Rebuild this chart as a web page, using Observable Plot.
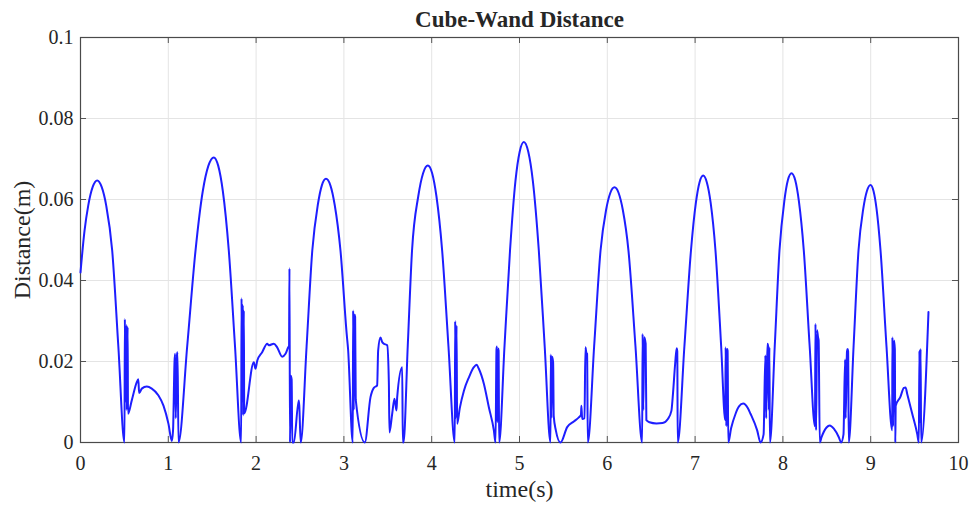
<!DOCTYPE html>
<html>
<head>
<meta charset="utf-8">
<script src="https://cdn.jsdelivr.net/npm/d3@7"></script>
<script src="https://cdn.jsdelivr.net/npm/@observablehq/plot@0.6"></script>
<style>
  body { margin: 0; background: #fff; }
</style>
</head>
<body>
<div id="chart"></div>
<script>
// Cube-to-wand distance over time (seconds, metres)
const time = [
  0.000, 0.046, 0.088, 0.139, 0.190, 0.241, 0.293, 0.361, 0.431, 0.501,
  0.505, 0.513, 0.522, 0.527, 0.537, 0.541, 0.584, 0.641, 0.658, 0.668,
  0.698, 0.755, 0.812, 0.888, 0.945, 1.002, 1.040, 1.054, 1.071, 1.078,
  1.085, 1.099, 1.105, 1.116,
  1.215, 1.310, 1.393, 1.456, 1.518, 1.569, 1.621, 1.689, 1.760, 1.830,
  1.834, 1.840, 1.848, 1.853, 1.860, 1.865, 1.974, 1.993, 2.013, 2.069,
  2.127, 2.145, 2.202, 2.240, 2.297, 2.335, 2.366, 2.375, 2.380, 2.386,
  2.395, 2.405, 2.412, 2.430, 2.486, 2.492, 2.508,
  2.575, 2.640, 2.703, 2.749, 2.796, 2.846, 2.895, 2.961, 3.033, 3.047, 3.101,
  3.105, 3.112, 3.120, 3.128, 3.135, 3.238, 3.303, 3.341, 3.379, 3.390,
  3.417, 3.436, 3.455, 3.493, 3.512, 3.519, 3.550, 3.576, 3.599, 3.607,
  3.664, 3.671, 3.679,
  3.727, 3.776, 3.847, 3.902, 3.956, 4.005, 4.054, 4.119, 4.191, 4.263,
  4.267, 4.275, 4.283, 4.290, 4.320, 4.367, 4.424, 4.480, 4.511, 4.537,
  4.594, 4.651, 4.708, 4.727, 4.738, 4.744, 4.750, 4.757, 4.762, 4.768,
  4.829, 4.892, 4.954, 5.002, 5.049, 5.100, 5.152, 5.220, 5.287, 5.353,
  5.357, 5.363, 5.372, 5.383, 5.390, 5.414, 5.467, 5.543, 5.619, 5.676,
  5.700, 5.705, 5.714, 5.740, 5.751, 5.761, 5.770, 5.778,
  5.850, 5.923, 5.986, 6.034, 6.082, 6.129, 6.177, 6.241, 6.321, 6.397,
  6.402, 6.410, 6.420, 6.437, 6.445, 6.480, 6.560, 6.630, 6.690, 6.730,
  6.745, 6.773, 6.790, 6.797, 6.802,
  6.878, 6.953, 7.009, 7.050, 7.092, 7.134, 7.177, 7.232, 7.297,
  7.343, 7.348, 7.355, 7.365, 7.370, 7.378, 7.410, 7.461, 7.500, 7.548,
  7.600, 7.631, 7.707, 7.745, 7.780, 7.800, 7.810, 7.823, 7.830, 7.840,
  7.846, 7.852,
  7.907, 7.961, 8.016, 8.057, 8.098, 8.140, 8.182, 8.238, 8.305, 8.365,
  8.371, 8.378, 8.389, 8.400, 8.407, 8.420, 8.440, 8.497, 8.534, 8.580,
  8.637, 8.663, 8.690, 8.708, 8.715, 8.730, 8.737, 8.743, 8.750,
  8.805, 8.861, 8.916, 8.957, 8.998, 9.032, 9.066, 9.112, 9.180, 9.245,
  9.247, 9.255, 9.265, 9.275, 9.280, 9.285, 9.337, 9.378, 9.397, 9.416,
  9.473, 9.530, 9.548, 9.555, 9.560, 9.568, 9.575, 9.658
];

const distance = [
  0.0420, 0.0523, 0.0585, 0.0631, 0.0647, 0.0631, 0.0585, 0.0474, 0.0237, 0.0000,
  0.0305, 0.0100, 0.0290, 0.0080, 0.0285, 0.0071, 0.0104, 0.0149, 0.0156, 0.0122,
  0.0133, 0.0138, 0.0133, 0.0116, 0.0091, 0.0046, 0.0004, 0.0030, 0.0200, 0.0219,
  0.0060, 0.0215, 0.0223, 0.0000,
  0.0237, 0.0474, 0.0621, 0.0683, 0.0704, 0.0683, 0.0621, 0.0474, 0.0237, 0.0000,
  0.0356, 0.0100, 0.0340, 0.0067, 0.0326, 0.0072, 0.0198, 0.0182, 0.0202, 0.0223,
  0.0244, 0.0240, 0.0244, 0.0235, 0.0212, 0.0219, 0.0235, 0.0238, 0.0430, 0.0000,
  0.0165, 0.0155, 0.0000, 0.0000, 0.0104, 0.0090, 0.0000,
  0.0237, 0.0474, 0.0587, 0.0635, 0.0651, 0.0635, 0.0587, 0.0474, 0.0265, 0.0232, 0.0000,
  0.0326, 0.0080, 0.0316, 0.0310, 0.0105, 0.0000, 0.0112, 0.0135, 0.0141, 0.0227,
  0.0259, 0.0248, 0.0244, 0.0240, 0.0149, 0.0025, 0.0071, 0.0108, 0.0079, 0.0112,
  0.0186, 0.0000, 0.0000,
  0.0237, 0.0474, 0.0608, 0.0665, 0.0684, 0.0665, 0.0608, 0.0474, 0.0237, 0.0000,
  0.0300, 0.0060, 0.0289, 0.0046, 0.0085, 0.0128, 0.0161, 0.0186, 0.0192, 0.0182,
  0.0145, 0.0087, 0.0030, 0.0000, 0.0230, 0.0237, 0.0050, 0.0232, 0.0227, 0.0000,
  0.0237, 0.0474, 0.0646, 0.0718, 0.0742, 0.0718, 0.0646, 0.0474, 0.0237, 0.0000,
  0.0217, 0.0060, 0.0212, 0.0198, 0.0065, 0.0030, 0.0000, 0.0038, 0.0052, 0.0062,
  0.0068, 0.0091, 0.0058, 0.0060, 0.0235, 0.0222, 0.0219, 0.0000,
  0.0237, 0.0474, 0.0574, 0.0616, 0.0630, 0.0616, 0.0574, 0.0474, 0.0237, 0.0000,
  0.0268, 0.0080, 0.0260, 0.0244, 0.0055, 0.0050, 0.0047, 0.0048, 0.0058, 0.0078,
  0.0112, 0.0195, 0.0233, 0.0225, 0.0000,
  0.0237, 0.0474, 0.0592, 0.0642, 0.0659, 0.0642, 0.0592, 0.0474, 0.0237,
  0.0055, 0.0235, 0.0040, 0.0231, 0.0227, 0.0000, 0.0035, 0.0071, 0.0089, 0.0096,
  0.0085, 0.0071, 0.0030, 0.0000, 0.0020, 0.0215, 0.0060, 0.0244, 0.0240, 0.0080,
  0.0235, 0.0000,
  0.0237, 0.0474, 0.0596, 0.0648, 0.0665, 0.0648, 0.0596, 0.0474, 0.0237, 0.0040,
  0.0293, 0.0030, 0.0277, 0.0260, 0.0252, 0.0000, 0.0013, 0.0037, 0.0042, 0.0034,
  0.0013, 0.0000, 0.0020, 0.0205, 0.0060, 0.0225, 0.0231, 0.0225, 0.0000,
  0.0237, 0.0474, 0.0578, 0.0621, 0.0636, 0.0621, 0.0578, 0.0474, 0.0237, 0.0030,
  0.0260, 0.0040, 0.0252, 0.0231, 0.0000, 0.0091, 0.0112, 0.0135, 0.0136, 0.0120,
  0.0071, 0.0021, 0.0000, 0.0227, 0.0050, 0.0231, 0.0000, 0.0322
];

const xTicks = [0, 1, 2, 3, 4, 5, 6, 7, 8, 9, 10];
const yTicks = [0, 0.02, 0.04, 0.06, 0.08, 0.1];

const title = "Cube-Wand Distance";
const xLabel = "time(s)";
const yLabel = "Distance(m)";

const rows = time.map((t, i) => ({t, d: distance[i]}));

const ink = "#262626";

const chart = Plot.plot({
  width: 973,
  height: 507,
  marginLeft: 80,
  marginRight: 15,
  marginTop: 37,
  marginBottom: 65,
  style: {
    fontFamily: '"Liberation Serif", "Times New Roman", serif',
    fontSize: "20px",
    color: ink,
    background: "#fff"
  },
  x: {domain: [0, 10], label: null},
  y: {domain: [0, 0.1], label: null},
  marks: [
    Plot.gridX(xTicks, {stroke: "#e4e4e4", strokeOpacity: 1}),
    Plot.gridY(yTicks, {stroke: "#e4e4e4", strokeOpacity: 1}),
    // inward tick marks on all four sides
    Plot.tickX(xTicks, {x: d => d, insetTop: 399, stroke: "#555"}),
    Plot.tickX(xTicks, {x: d => d, insetBottom: 399, stroke: "#555"}),
    Plot.tickY(yTicks, {y: d => d, insetRight: 872, stroke: "#555"}),
    Plot.tickY(yTicks, {y: d => d, insetLeft: 872, stroke: "#555"}),
    Plot.axisX(xTicks, {tickSize: 0, tickPadding: 13, fontSize: 20, fill: ink, tickFormat: d => String(d)}),
    Plot.axisY(yTicks, {tickSize: 0, tickPadding: 7, fontSize: 20, fill: ink, tickFormat: d => String(d)}),
    Plot.frame({stroke: "#4a4a4a", strokeWidth: 1.2}),
    Plot.line(rows, {x: "t", y: "d", stroke: "#1e1eff", strokeWidth: 2, curve: "monotone-x"}),
    Plot.text([title], {frameAnchor: "top", lineAnchor: "middle", dy: -18, fontSize: 23, fontWeight: "bold", fill: ink}),
    Plot.text([xLabel], {frameAnchor: "bottom", lineAnchor: "middle", dy: 47, fontSize: 24, fill: ink}),
    Plot.text([yLabel], {frameAnchor: "left", textAnchor: "middle", lineAnchor: "middle", dx: -58, rotate: -90, fontSize: 24, fill: ink})
  ]
});

document.getElementById("chart").appendChild(chart);
</script>
</body>
</html>
